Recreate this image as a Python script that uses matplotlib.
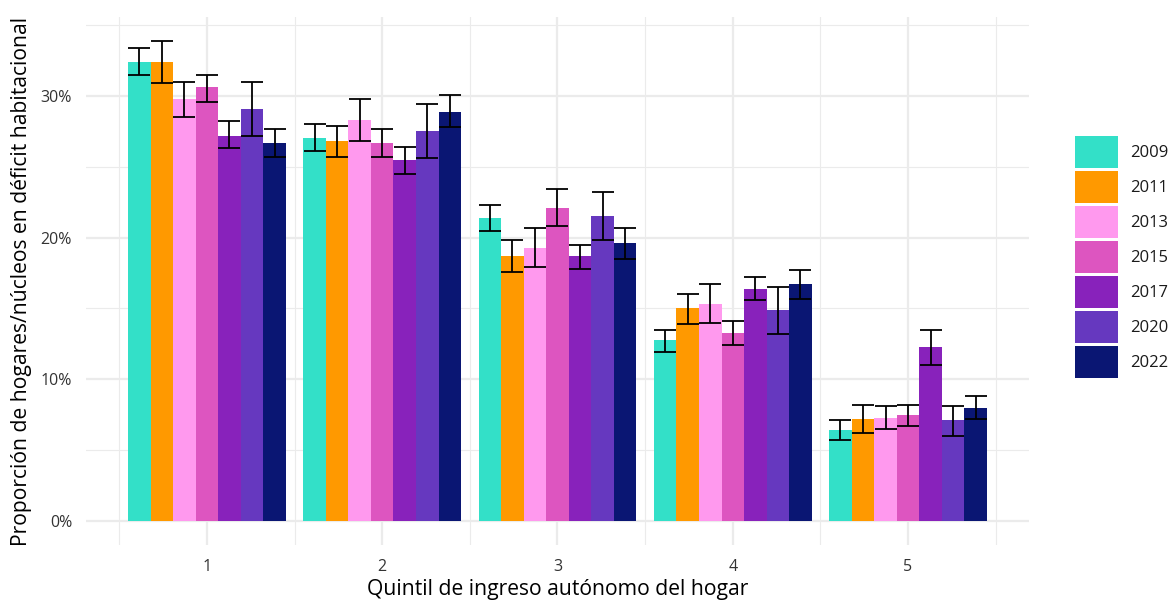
import numpy as np
import matplotlib
matplotlib.use("Agg")
import matplotlib.pyplot as plt
from matplotlib.patches import Patch
from matplotlib.ticker import PercentFormatter, FixedLocator

plt.rcParams['font.family'] = ['Open Sans', 'DejaVu Sans']

# datos (proporciones)
quintiles = ['1', '2', '3', '4', '5']
years = ['2009', '2011', '2013', '2015', '2017', '2020', '2022']
colores = ['#33E0C8', '#FF9900', '#FF99EE', '#DD55C0', '#8822BB', '#6638BF', '#0A1673']

valores = {
    '2009': [0.324, 0.270, 0.214, 0.128, 0.064],
    '2011': [0.324, 0.268, 0.187, 0.150, 0.072],
    '2013': [0.298, 0.283, 0.193, 0.153, 0.073],
    '2015': [0.306, 0.267, 0.221, 0.133, 0.075],
    '2017': [0.272, 0.255, 0.187, 0.164, 0.123],
    '2020': [0.291, 0.275, 0.215, 0.149, 0.071],
    '2022': [0.267, 0.289, 0.196, 0.167, 0.080],
}
li = {
    '2009': [0.315, 0.261, 0.205, 0.119, 0.057],
    '2011': [0.309, 0.257, 0.176, 0.139, 0.062],
    '2013': [0.285, 0.268, 0.179, 0.140, 0.065],
    '2015': [0.296, 0.257, 0.208, 0.124, 0.067],
    '2017': [0.263, 0.245, 0.178, 0.156, 0.110],
    '2020': [0.272, 0.256, 0.198, 0.132, 0.060],
    '2022': [0.257, 0.278, 0.185, 0.157, 0.072],
}
ls = {
    '2009': [0.334, 0.280, 0.223, 0.135, 0.071],
    '2011': [0.339, 0.279, 0.198, 0.160, 0.082],
    '2013': [0.310, 0.298, 0.207, 0.167, 0.081],
    '2015': [0.315, 0.277, 0.234, 0.141, 0.082],
    '2017': [0.282, 0.264, 0.195, 0.172, 0.135],
    '2020': [0.310, 0.294, 0.232, 0.165, 0.081],
    '2022': [0.277, 0.301, 0.207, 0.177, 0.088],
}

fig = plt.figure(figsize=(11.71, 6.01), dpi=100)
W, H = 1171, 601
ax = fig.add_axes([86 / W, 1 - 545 / H, (1029 - 86) / W, (545 - 17) / H])

x = np.arange(1, len(quintiles) + 1)
n = len(years)
ancho = 0.9 / n
for i, (yr, col) in enumerate(zip(years, colores)):
    pos = x - 0.45 + ancho * (i + 0.5)
    v = np.array(valores[yr])
    ax.bar(pos, v, width=ancho, color=col, zorder=2)
    err = [v - np.array(li[yr]), np.array(ls[yr]) - v]
    ax.errorbar(pos, v, yerr=err, fmt='none', ecolor='black',
                elinewidth=1.3, capsize=8.1, capthick=1.3, zorder=3)

ax.set_xlim(0.31, 5.69)
ax.set_ylim(-0.0169, 0.3557)
ax.set_xticks(x)
ax.set_xticklabels(quintiles)
ax.xaxis.set_minor_locator(FixedLocator(np.arange(0.5, 6, 1)))
ax.set_yticks([0, 0.1, 0.2, 0.3])
ax.yaxis.set_minor_locator(FixedLocator([0.05, 0.15, 0.25, 0.35]))
ax.yaxis.set_major_formatter(PercentFormatter(1.0, decimals=0))

ax.grid(which='major', color='#EBEBEB', linewidth=1.6, zorder=0)
ax.grid(which='minor', color='#EBEBEB', linewidth=0.8, zorder=0)
ax.set_axisbelow(True)
for s in ax.spines.values():
    s.set_visible(False)
ax.tick_params(which='both', length=0)
ax.tick_params(axis='x', labelsize=11.5, labelcolor='#333333', pad=10)
ax.tick_params(axis='y', labelsize=11.5, labelcolor='#333333', pad=10)

ax.set_xlabel('Quintil de ingreso autónomo del hogar', fontsize=15.2, color='black', labelpad=3)
ax.set_ylabel('Proporción de hogares/núcleos en déficit habitacional', fontsize=15.2,
              color='black', labelpad=6)

handles = [Patch(facecolor=c, edgecolor='none') for c in colores]
fs = 12
fpx = fs * 100 / 72
fig.legend(handles, years, loc='upper left',
           bbox_to_anchor=(1075 / W, 1 - 136 / H), bbox_transform=fig.transFigure,
           frameon=False, fontsize=fs, borderpad=0, borderaxespad=0,
           handlelength=43 / fpx, handleheight=43 / fpx,
           labelspacing=3 / fpx, handletextpad=12.5 / fpx, labelcolor='#1A1A1A')

fig.savefig('out.png', dpi=100, facecolor='white')
